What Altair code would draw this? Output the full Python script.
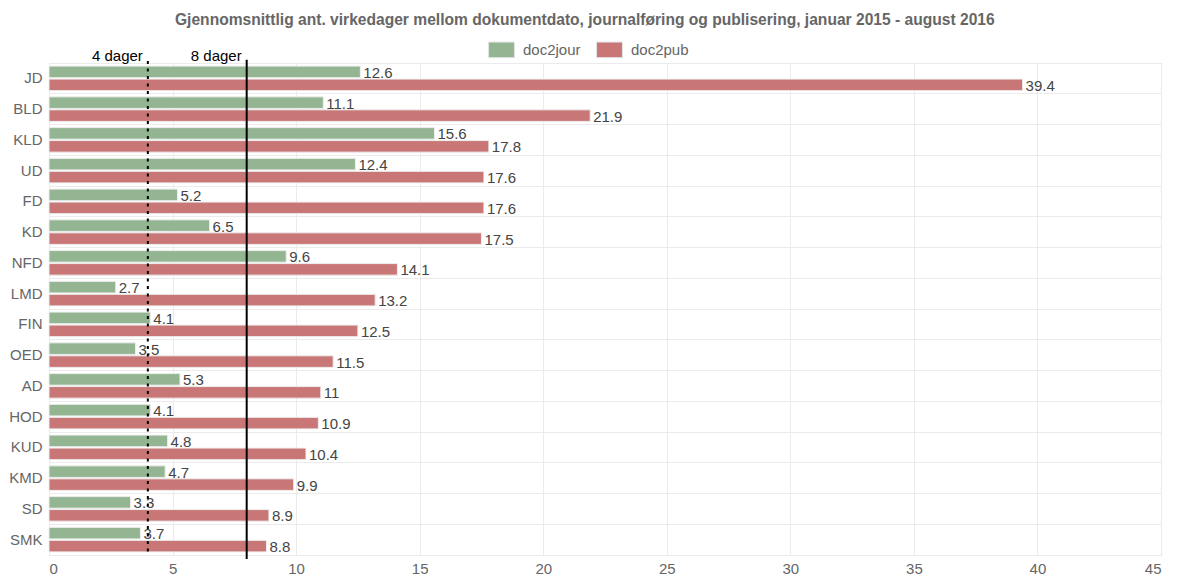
import altair as alt
import pandas as pd

categories = ["JD", "BLD", "KLD", "UD", "FD", "KD", "NFD", "LMD", "FIN", "OED",
              "AD", "HOD", "KUD", "KMD", "SD", "SMK"]
doc2jour = [12.6, 11.1, 15.6, 12.4, 5.2, 6.5, 9.6, 2.7, 4.1, 3.5, 5.3, 4.1, 4.8, 4.7, 3.3, 3.7]
doc2pub = [39.4, 21.9, 17.8, 17.6, 17.6, 17.5, 14.1, 13.2, 12.5, 11.5, 11, 10.9, 10.4, 9.9, 8.9, 8.8]
series_names = ["doc2jour", "doc2pub"]
series_colors = ["#93b592", "#c87676"]
ref_values = [4, 8]
ref_labels = ["4 dager", "8 dager"]
title_text = ("Gjennomsnittlig ant. virkedager mellom dokumentdato, journalføring og "
              "publisering, januar 2015 - august 2016")


def fmt(v):
    return str(int(v)) if float(v).is_integer() else f"{v:.1f}"


rows = []
for c, a, b in zip(categories, doc2jour, doc2pub):
    rows.append({"cat": c, "series": "doc2jour", "value": a, "label": fmt(a)})
    rows.append({"cat": c, "series": "doc2pub", "value": b, "label": fmt(b)})
df = pd.DataFrame(rows)
ref_df = pd.DataFrame({"v": ref_values, "label": ref_labels})

FONT = "Liberation Sans"
W, H = 1112, 492

x_enc = alt.X("value:Q", scale=alt.Scale(domain=[0, 45], nice=False),
              axis=alt.Axis(title=None, values=list(range(0, 50, 5)), labelFontSize=15,
                            labelColor="#666666", ticks=False, domain=True,
                            domainColor="#ebebeb", gridColor="#ebebeb", labelPadding=6,
                            labelFont=FONT))
y_enc = alt.Y("cat:N", sort=categories, scale=alt.Scale(paddingInner=0, paddingOuter=0),
              axis=alt.Axis(title=None, labelFontSize=15, labelColor="#666666",
                            labelPadding=7, ticks=False, domain=False, grid=True,
                            bandPosition=0, gridColor="#ebebeb", labelFont=FONT))
yoff = alt.YOffset("series:N", sort=series_names,
                   scale=alt.Scale(paddingInner=0.11, paddingOuter=0.24))
color = alt.Color("series:N",
                  scale=alt.Scale(domain=series_names, range=series_colors),
                  legend=alt.Legend(title=None, orient="none", direction="horizontal",
                                    legendX=444, legendY=-22, padding=0,
                                    symbolType="M-1.66,-1L1.66,-1L1.66,1L-1.66,1Z",
                                    symbolSize=243, symbolOpacity=1,
                                    symbolStrokeColor="#e3e3e3", symbolStrokeWidth=1,
                                    labelFontSize=15, labelColor="#666666",
                                    labelOffset=13, columnPadding=13, labelFont=FONT))

base = alt.Chart(df)
bars = base.mark_bar(stroke="#eeeeee", strokeWidth=1).encode(
    x=x_enc, y=y_enc, yOffset=yoff, color=color)
labels = base.mark_text(align="left", baseline="middle", dx=3, dy=1, fontSize=15,
                        color="#444444", font=FONT).encode(
    x="value:Q", y=alt.Y("cat:N", sort=categories), yOffset=yoff, text="label:N")

rule4 = alt.Chart(ref_df).transform_filter(alt.datum.v == 4).mark_rule(
    color="black", strokeWidth=2, strokeDash=[3, 4.5]).encode(
    x="v:Q", y=alt.value(-2), y2=alt.value(H))
rule8 = alt.Chart(ref_df).transform_filter(alt.datum.v == 8).mark_rule(
    color="black", strokeWidth=2).encode(
    x="v:Q", y=alt.value(-3.3), y2=alt.value(H + 4))
ref_text = alt.Chart(ref_df).mark_text(align="right", baseline="alphabetic", dx=-5,
                                       fontSize=15, color="black", font=FONT).encode(
    x="v:Q", y=alt.value(-1.6), text="label:N")

chart = alt.layer(bars, labels, rule4, rule8, ref_text).properties(
    width=W, height=H,
    title=alt.TitleParams(title_text, fontSize=15.6, fontWeight="bold", color="#666666",
                          anchor="middle", frame="bounds", offset=12, font=FONT),
    autosize=alt.AutoSizeParams(type="none"),
    padding={"left": 41, "top": 55, "right": 8, "bottom": 20},
).configure_view(stroke=None).configure(font=FONT)

chart.save("out.html", embed_options={"renderer": "svg", "actions": False})
